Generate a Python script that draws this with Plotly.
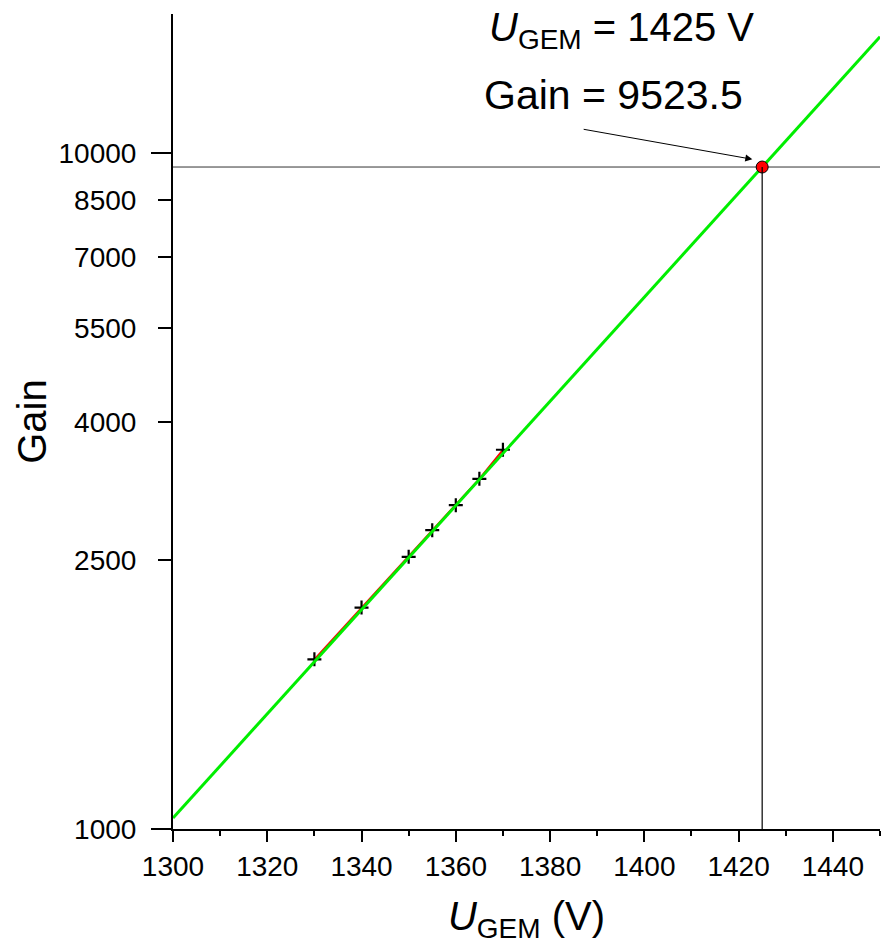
import math
import plotly.graph_objects as go

# Measured data (U_GEM in V, gain)
voltage = [1330, 1340, 1350, 1355, 1360, 1365, 1370]
gain = [1782, 2125, 2526, 2766, 3012, 3294, 3637]

# Exponential fit line (straight on log axis), endpoints
fit_voltage = [1300, 1450]
fit_gain = [1038, 14840]

# Working point
point_voltage = 1425
point_gain = 9523.5

x_range = [1300, 1450]
y_range_vals = [1000, 16035]
x_tickvals = [1300, 1320, 1340, 1360, 1380, 1400, 1420, 1440]
y_tickvals = [1000, 2500, 4000, 5500, 7000, 8500, 10000]
y_long_ticks = [1000, 10000]

FONT = "Arial, Liberation Sans, sans-serif"

fig = go.Figure()

# horizontal guide
fig.add_trace(go.Scatter(x=x_range, y=[point_gain, point_gain], mode="lines",
                         line=dict(color="#333333", width=1), showlegend=False,
                         hoverinfo="skip"))
# vertical guide (on overlay axis so that its ticks are drawn)
fig.add_trace(go.Scatter(x=[point_voltage, point_voltage], y=[y_range_vals[0], point_gain],
                         mode="lines", line=dict(color="black", width=1.2),
                         showlegend=False, hoverinfo="skip", yaxis="y2"))
# measured data
fig.add_trace(go.Scatter(x=voltage, y=gain, mode="lines+markers",
                         line=dict(color="red", width=2),
                         marker=dict(symbol="cross-thin", size=10, color="black",
                                     line=dict(color="black", width=2.2)),
                         showlegend=False))
# fit
fig.add_trace(go.Scatter(x=fit_voltage, y=fit_gain, mode="lines",
                         line=dict(color="#00ee00", width=3), showlegend=False))
# working point
fig.add_trace(go.Scatter(x=[point_voltage], y=[point_gain], mode="markers",
                         marker=dict(size=12, color="red", line=dict(color="black", width=1)),
                         showlegend=False, cliponaxis=False))

yr = [math.log10(y_range_vals[0]), math.log10(y_range_vals[1])]

fig.update_layout(
    width=881, height=946,
    margin=dict(l=173, r=1, t=14, b=117),
    paper_bgcolor="white", plot_bgcolor="white",
    font=dict(family=FONT, color="black"),
    xaxis=dict(
        range=x_range, tickvals=x_tickvals, ticks="outside", ticklen=11, tickwidth=2,
        tickcolor="black", showline=True, linewidth=2, linecolor="black",
        showgrid=False, zeroline=False, tickfont=dict(size=28, family=FONT),
        minor=dict(dtick=10, tick0=1300, ticks="outside", ticklen=5, tickwidth=2,
                   tickcolor="black", showgrid=False),
        title=dict(text="<i>U</i><sub>GEM</sub> (V)", font=dict(size=40, family=FONT),
                   standoff=21),
    ),
    yaxis=dict(
        type="log", range=yr, tickvals=y_tickvals, ticktext=[str(v) for v in y_tickvals],
        ticks="outside", ticklen=13, tickwidth=2, tickcolor="black",
        showline=True, linewidth=2, linecolor="black", showgrid=False, zeroline=False,
        tickfont=dict(size=28, family=FONT), ticklabelstandoff=16,
        title=dict(text="Gain", font=dict(size=40, family=FONT), standoff=0),
    ),
    yaxis2=dict(
        type="log", range=yr, overlaying="y", side="left", anchor="x",
        tickvals=y_long_ticks, ticks="outside", ticklen=21, tickwidth=2, tickcolor="black",
        showticklabels=False, showline=False, showgrid=False, zeroline=False,
    ),
    annotations=[
        dict(x=point_voltage, y=math.log10(point_gain), xref="x", yref="y",
             text="", showarrow=True, arrowhead=2, arrowsize=1.4, arrowwidth=1,
             arrowcolor="black", ax=-180, ay=-32, yshift=6, standoff=10),
        dict(x=0.635, y=0.980, xref="paper", yref="paper", xanchor="center", yanchor="middle",
             text=f"<i>U</i><sub>GEM</sub> = {point_voltage} V", showarrow=False,
             font=dict(size=40, family=FONT)),
        dict(x=0.6225, y=0.900, xref="paper", yref="paper", xanchor="center", yanchor="middle",
             text=f"Gain = {point_gain}", showarrow=False,
             font=dict(size=41, family=FONT)),
    ],
)

fig.write_html("out.html", config={"displayModeBar": False},
               post_script="document.body.style.margin='0';document.body.style.overflow='hidden';")
